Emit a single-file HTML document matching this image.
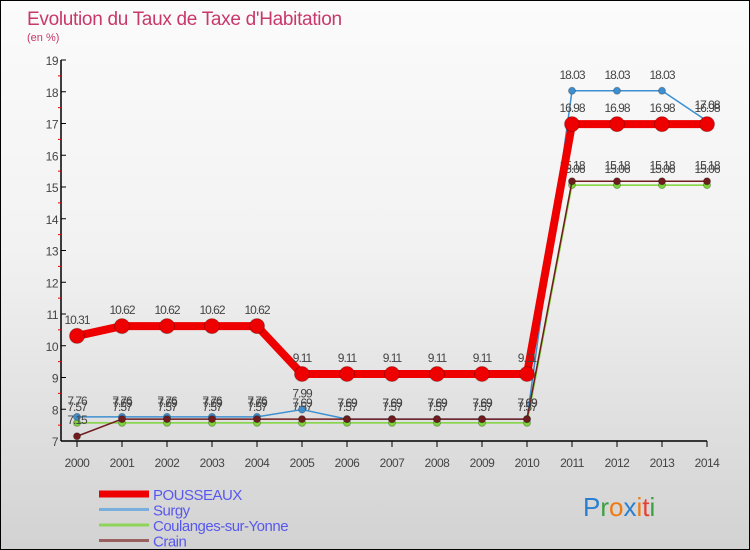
<!DOCTYPE html>
<html><head><meta charset="utf-8"><style>
body{margin:0}
#c{width:750px;height:550px;position:relative;box-sizing:border-box;border:1px solid #000;background:linear-gradient(#fbfbfb,#f2f2f2 45%,#d2d2d2);font-family:"Liberation Sans",sans-serif;overflow:hidden}
svg{position:absolute;left:0;top:0}
</style></head><body>
<div id="c">
<svg id="s" width="750" height="550">
<text x="26" y="24" font-size="19" fill="#c8386a" letter-spacing="-0.3">Evolution du Taux de Taxe d'Habitation</text>
<text x="26" y="40" font-size="11" fill="#c8386a">(en %)</text>
</svg>
</div>
<script>
const years=[2000,2001,2002,2003,2004,2005,2006,2007,2008,2009,2010,2011,2012,2013,2014];
const pousseaux=[10.31,10.62,10.62,10.62,10.62,9.11,9.11,9.11,9.11,9.11,9.11,16.98,16.98,16.98,16.98];
const surgy=[7.76,7.76,7.76,7.76,7.76,7.99,7.69,7.69,7.69,7.69,7.69,18.03,18.03,18.03,17.08];
const coulanges=[7.57,7.57,7.57,7.57,7.57,7.57,7.57,7.57,7.57,7.57,7.57,15.06,15.06,15.06,15.06];
const crain=[7.15,7.69,7.69,7.69,7.69,7.69,7.69,7.69,7.69,7.69,7.69,15.18,15.18,15.18,15.18];
const yTicks=[7,8,9,10,11,12,13,14,15,16,17,18,19];
const seriesNames=["POUSSEAUX","Surgy","Coulanges-sur-Yonne","Crain"];
const NS="http://www.w3.org/2000/svg",s=document.getElementById('s');
const X=i=>76+i*45, Y=v=>440-(v-7)*31.75;
function el(t,a,txt){const e=document.createElementNS(NS,t);for(const k in a)e.setAttribute(k,a[k]);if(txt!=null)e.textContent=txt;s.appendChild(e);return e;}
let e=el('line',{x1:60,y1:59,x2:60,y2:440,stroke:'#000','stroke-width':1.5});


e=el('line',{x1:60,y1:440,x2:706,y2:440,stroke:'#000','stroke-width':1.5});


yTicks.forEach(v=>{
 el('line',{x1:60,y1:Y(v),x2:65,y2:Y(v),stroke:'#000'});
 if(v<19)el('line',{x1:57,y1:Y(v+0.5),x2:60,y2:Y(v+0.5),stroke:'#e00'});
 const t=el('text',{x:57,y:Y(v)+5,'font-size':12,fill:'#444','text-anchor':'end','letter-spacing':'-0.5'},v);
 
 
});
years.forEach((y,i)=>{
 el('line',{x1:X(i),y1:440,x2:X(i),y2:446,stroke:'#000'});
 const t=el('text',{x:X(i),y:466,'font-size':12,fill:'#444','text-anchor':'middle','letter-spacing':'-0.5'},y);
 
 
});
function series(data,color,w,r,name){
 const l=el('polyline',{points:data.map((v,i)=>X(i)+','+Y(v)).join(' '),fill:'none',stroke:color,'stroke-width':w,'stroke-linejoin':'round'});
 
 
 data.forEach((v,i)=>{
  const c=el('circle',{cx:X(i),cy:Y(v),r:r,fill:color,stroke:'rgba(0,0,0,0.25)'});
  
  
  const t=el('text',{x:X(i),y:Y(v)-12,'font-size':12,fill:'#444','text-anchor':'middle','letter-spacing':'-1'},v);
  
  
 });
}
series(coulanges,'#7ed43a',1.5,3.5,'coulanges');
series(surgy,'#3d8fd0',1.5,3.5,'surgy');
series(crain,'#701c1c',1.5,3.5,'crain');
series(pousseaux,'#ee0000',8,7.5,'pousseaux');
const lc=['#ee0000','#7aaedc','#8ed45a','#9a6060'],lw=[7,3,3,3];
seriesNames.forEach((n,i)=>{
 const yy=493+i*15.5;
 const l=el('line',{x1:98,y1:yy,x2:148,y2:yy,stroke:lc[i],'stroke-width':lw[i]});
 
 
 const t=el('text',{x:152,y:yy+6,'font-size':15,fill:'#5858ee','letter-spacing':'-0.5'},n);
 
 
});
const logo=el('text',{x:582,y:515,'font-size':26});


[['P','#2a7fd0'],['r','#3aa040'],['o','#f07a10'],['x','#2a7fd0'],['i','#f07a10'],['t','#e84030'],['i','#3aa040']].forEach(([ch,c])=>{const sp=document.createElementNS(NS,'tspan');sp.setAttribute('fill',c);sp.textContent=ch;logo.appendChild(sp);});
</script>
</body></html>
